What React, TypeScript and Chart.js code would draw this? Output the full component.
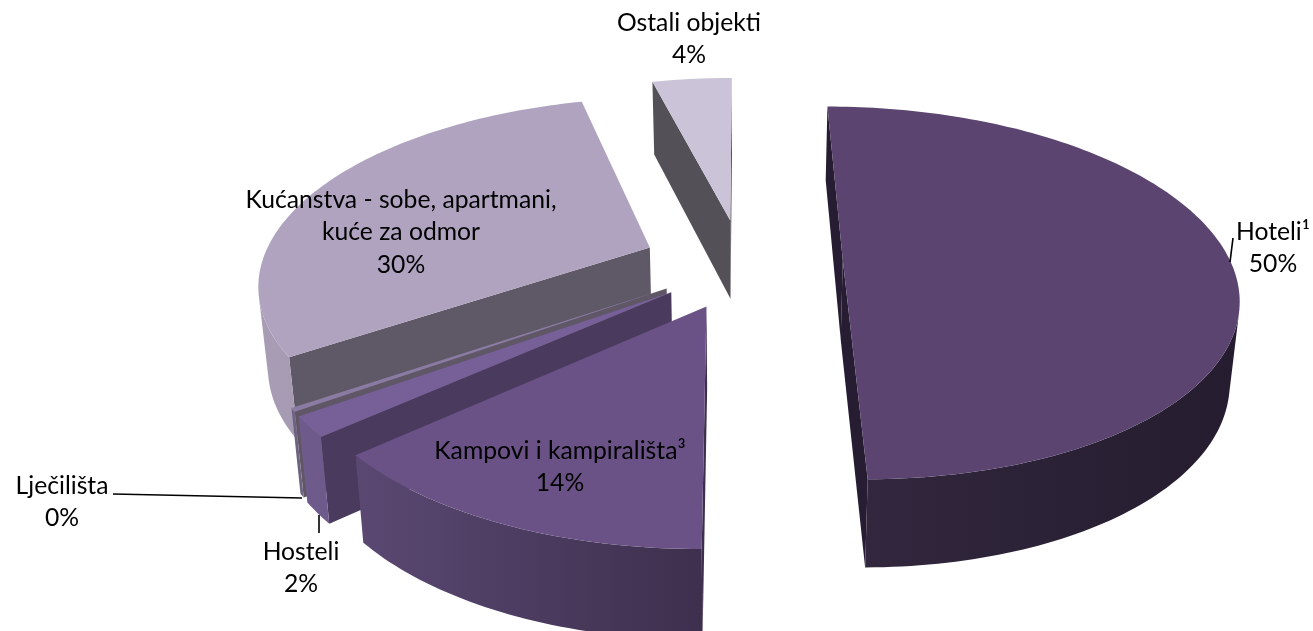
import React, { useEffect, useRef } from "react";
import { Chart, registerables } from "chart.js";

Chart.register(...registerables);

const categories = ["Hoteli¹", "Kampovi i kampirališta³", "Hosteli", "Lječilišta", "Kućanstva - sobe, apartmani, kuće za odmor", "Ostali objekti"];
const shares = [49.9, 13.6, 1.7, 0.3, 30.5, 4];
const percentLabels = ["50%", "14%", "2%", "0%", "30%", "4%"];
const explode = [26.3, 27, 28, 27, 25.5, 23];
const nudgeU = [0, 0.025, 0.045, 0.035, 0, 0];
const nudgeV = [0, 0, 0, 0, -0.02, 0];

const topColors = ["#5b4570", "#6b5286", "#775f98", "#8a7ba2", "#b0a3c0", "#cbc4d8"];
const radialColors = ["#271d33", "#3d2f4d", "#4a3a5e", "#5f5666", "#5f5866", "#545058"];
const wallLeft = ["#33283f", "#5a4872", "#6f5a8c", "#6d6380", "#a89db5", "#8f8a99"];
const wallRight = ["#251c2f", "#3d2f4d", "#6b5588", "#6d6380", "#8e869c", "#8f8a99"];

const labelLines = [
  ["Hoteli¹"],
  ["Kampovi i kampirališta³"],
  ["Hosteli"],
  ["Lječilišta"],
  ["Kućanstva - sobe, apartmani,", "kuće za odmor"],
  ["Ostali objekti"],
];
const labelAnchors = [
  [1273, 232],
  [560, 451],
  [301, 552],
  [62, 486],
  [401, 200],
  [689, 23],
];
const leaders = [
  [[1230, 262], [1233, 238]],
  [[319, 515], [319, 533]],
  [[113, 494], [302, 498]],
];

const FONT = "24.7px Lato, Carlito, sans-serif";
const LINE = 32.5;

// Pie plane -> screen (perspective towards a vanishing point above the image)
const CX = 741;
const VY = -757;
const SPAN = 1017;
const PX = 387;
const TILT = 0.1775;
const DEPTH = 80;
const BASE_X = 0.98;

type P = [number, number];
function top(u: number, v: number): P {
  const w = 1 + TILT * v;
  return [CX + (PX * u) / w, VY + SPAN / w];
}
function bottom(u: number, v: number): P {
  const w = 1 + TILT * v;
  const [x, y] = top(u, v);
  return [CX + (x - CX) * BASE_X, y + DEPTH / Math.sqrt(w)];
}

function poly(ctx: CanvasRenderingContext2D, pts: P[], fill: string | CanvasGradient) {
  ctx.beginPath();
  pts.forEach((p, i) => (i ? ctx.lineTo(p[0], p[1]) : ctx.moveTo(p[0], p[1])));
  ctx.closePath();
  ctx.fillStyle = fill;
  ctx.fill();
}
function area(pts: P[]) {
  let s = 0;
  pts.forEach((p, i) => {
    const q = pts[(i + 1) % pts.length];
    s += p[0] * q[1] - q[0] * p[1];
  });
  return s / 2;
}

const pie3d = {
  id: "pie3d",
  beforeDatasetsDraw(chart: any) {
    const ctx: CanvasRenderingContext2D = chart.ctx;
    const arcs = chart.getDatasetMeta(0).data;
    // back to front: last slices sit at the back
    const order = [5, 4, 3, 2, 1, 0];
    order.forEach((i) => {
      const arc = arcs[i];
      const t0 = arc.startAngle + Math.PI / 2;
      const t1 = arc.endAngle + Math.PI / 2;
      const mid = (t0 + t1) / 2;
      const e = arc.options.offset / 100;
      const u0 = e * Math.sin(mid) + nudgeU[i];
      const v0 = e * Math.cos(mid) + nudgeV[i];
      const n = Math.max(2, Math.ceil((t1 - t0) / 0.02));
      const rim: [number, number][] = [];
      for (let k = 0; k <= n; k++) {
        const t = t0 + ((t1 - t0) * k) / n;
        rim.push([u0 + Math.sin(t), v0 + Math.cos(t)]);
      }
      const apex: [number, number] = [u0, v0];
      const topPts = [apex, ...rim].map(([u, v]) => top(u, v));
      const orient = Math.sign(area(topPts));
      const wall = (a: [number, number], b: [number, number]): P[] => [
        top(a[0], a[1]), top(b[0], b[1]), bottom(b[0], b[1]), bottom(a[0], a[1]),
      ];
      const visible = (a: [number, number], b: [number, number]) => Math.sign(area(wall(a, b))) !== orient;
      if (visible(apex, rim[0])) poly(ctx, wall(apex, rim[0]), radialColors[i]);
      if (visible(rim[n], apex)) poly(ctx, wall(rim[n], apex), radialColors[i]);

      const xs = topPts.map((p) => p[0]);
      const grad = ctx.createLinearGradient(Math.min(...xs), 0, Math.max(...xs), 0);
      grad.addColorStop(0, wallLeft[i]);
      grad.addColorStop(1, wallRight[i]);
      let run: [number, number][] = [];
      const flush = () => {
        if (run.length > 1) {
          const upper = run.map(([u, v]) => top(u, v));
          const lower = run.map(([u, v]) => bottom(u, v)).reverse();
          poly(ctx, [...upper, ...lower], grad);
        }
        run = [];
      };
      for (let k = 0; k < n; k++) {
        if (visible(rim[k], rim[k + 1])) {
          if (!run.length) run.push(rim[k]);
          run.push(rim[k + 1]);
        } else flush();
      }
      flush();
      poly(ctx, topPts, topColors[i]);
    });
    return false;
  },
  afterDraw(chart: any) {
    const ctx: CanvasRenderingContext2D = chart.ctx;
    ctx.save();
    ctx.strokeStyle = "#000";
    ctx.lineWidth = 1.6;
    leaders.forEach(([a, b]) => {
      ctx.beginPath();
      ctx.moveTo(a[0], a[1]);
      ctx.lineTo(b[0], b[1]);
      ctx.stroke();
    });
    ctx.font = FONT;
    ctx.fillStyle = "#000";
    ctx.textAlign = "center";
    ctx.textBaseline = "middle";
    labelLines.forEach((lines, i) => {
      const [x, y] = labelAnchors[i];
      [...lines, percentLabels[i]].forEach((s, k) => ctx.fillText(s, x, y + k * LINE));
    });
    ctx.restore();
  },
};

export default function App() {
  const ref = useRef<HTMLCanvasElement>(null);
  useEffect(() => {
    const chart = new Chart(ref.current!, {
      type: "pie",
      data: {
        labels: categories,
        datasets: [{ data: shares, backgroundColor: topColors, offset: explode, borderWidth: 0 }],
      },
      options: {
        animation: false,
        responsive: false,
        plugins: { legend: { display: false }, tooltip: { enabled: false } },
      },
      plugins: [pie3d],
    } as any);
    return () => chart.destroy();
  }, []);
  return (
    <div style={{ position: "fixed", left: 0, top: 0, width: 1313, height: 631, background: "#fff" }}>
      <canvas ref={ref} width={1313} height={631} style={{ display: "block" }} />
    </div>
  );
}
